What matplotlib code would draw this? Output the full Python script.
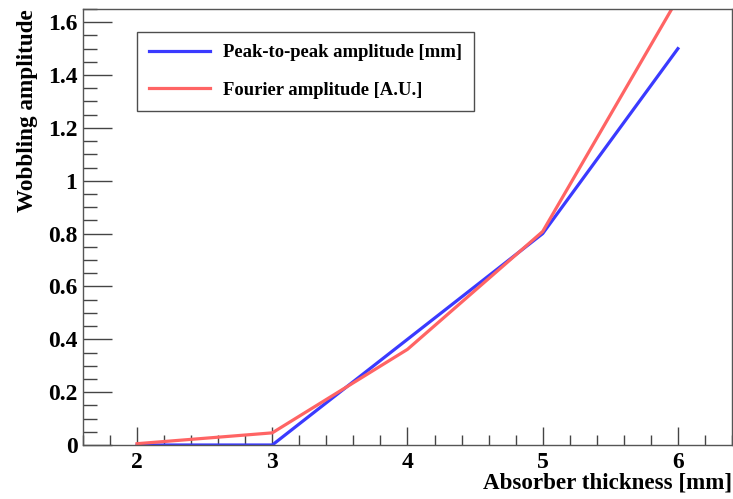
import matplotlib
matplotlib.use("Agg")
import matplotlib.pyplot as plt
from matplotlib.ticker import MultipleLocator

# data
thickness = [2, 3, 4, 5, 6]
peak_to_peak = [0.0, 0.0, 0.40, 0.80, 1.50]
fourier = [0.005, 0.046, 0.362, 0.808, 1.69]

plt.rcParams['font.family'] = ['Liberation Serif', 'DejaVu Serif']
plt.rcParams['font.weight'] = 'bold'

fig = plt.figure(figsize=(7.33, 4.99), dpi=100)
ax = fig.add_axes([0.1132, 0.1082, 0.8854, 0.8738])

ax.plot(thickness, peak_to_peak, color='#3a3aff', lw=2.3, label='Peak-to-peak amplitude [mm]')
ax.plot(thickness, fourier, color='#ff6464', lw=2.3, label='Fourier amplitude [A.U.]')

ax.set_xlim(1.6, 6.4)
ax.set_ylim(0, 1.65)
ax.xaxis.set_major_locator(MultipleLocator(1))
ax.xaxis.set_minor_locator(MultipleLocator(0.2))
ax.yaxis.set_major_locator(MultipleLocator(0.2))
ax.yaxis.set_minor_locator(MultipleLocator(0.05))
ax.yaxis.set_major_formatter(plt.FuncFormatter(lambda v, p: ('%g' % round(v, 2))))

ax.tick_params(axis='both', which='both', direction='in', color='#444444', width=1,
               labelsize=17, pad=4)
ax.tick_params(axis='x', which='major', length=13)
ax.tick_params(axis='x', which='minor', length=7)
ax.tick_params(axis='y', which='major', length=21)
ax.tick_params(axis='y', which='minor', length=10)
ax.tick_params(axis='x', pad=5)
for s in ax.spines.values():
    s.set_color('#555555')
    s.set_linewidth(1)

ax.set_xlabel('Absorber thickness [mm]', fontsize=16.6, fontweight='bold', loc='right', labelpad=0)
ax.set_ylabel('Wobbling amplitude', fontsize=16.7, fontweight='bold', loc='top', labelpad=7)

leg = ax.legend(loc='upper left', bbox_to_anchor=(0.083, 0.947), fontsize=13.4,
                frameon=True, fancybox=False, handlelength=3.3, handletextpad=0.7,
                labelspacing=1.1, borderpad=0.65, borderaxespad=0)
leg.get_frame().set_edgecolor('#222222')
leg.get_frame().set_linewidth(1)

fig.savefig('out.png', dpi=100)
